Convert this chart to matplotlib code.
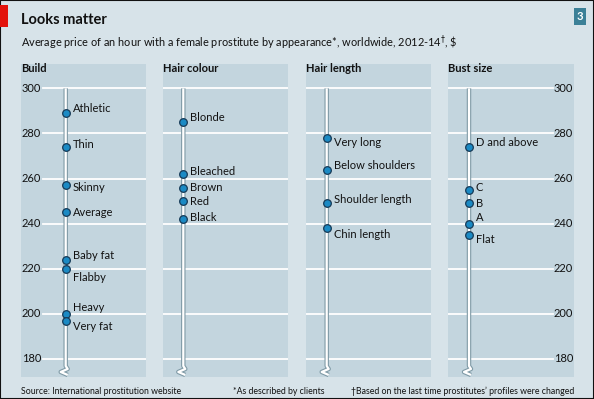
import matplotlib
matplotlib.use("Agg")
from matplotlib import pyplot as plt
from matplotlib.patches import Rectangle

plt.rcParams['font.family'] = ['Lato', 'DejaVu Sans']

# data
panel_titles = ["Build", "Hair colour", "Hair length", "Bust size"]
build_labels = ["Athletic", "Thin", "Skinny", "Average", "Baby fat", "Flabby", "Heavy", "Very fat"]
build_values = [289, 274, 257, 245, 224, 220, 200, 197]
colour_labels = ["Blonde", "Bleached", "Brown", "Red", "Black"]
colour_values = [285, 262, 256, 250, 242]
length_labels = ["Very long", "Below shoulders", "Shoulder length", "Chin length"]
length_values = [278, 264, 249, 238]
bust_labels = ["D and above", "C", "B", "A", "Flat"]
bust_values = [274, 255, 249, 240, 235]
yticks = [180, 200, 220, 240, 260, 280, 300]

# vertical nudges of the labels, in points
build_dy = [3, 1.5, -1.5, 0, 3, -6, 4.5, -4.5]
colour_dy = [3.5, 2, 0, 0, 1.5]
length_dy = [-3, 3, 2.5, -4.5]
bust_dy = [3, 1.5, 0, 4.5, -3]

BG = "#d7e3e9"
PANEL = "#c3d5de"
W, H = 594, 399

fig = plt.figure(figsize=(W / 100, H / 100), dpi=100)
fig.patch.set_facecolor(BG)


def px(x, y, w, h):
    return [x / W, 1 - (y + h) / H, w / W, h / H]


# border, red tag, number box
fig.add_artist(Rectangle((0, 0), 1, 1, transform=fig.transFigure, fill=False,
                         edgecolor="#111111", lw=1.5))
fig.add_artist(Rectangle((0, 1 - 27 / H), 8 / W, 22 / H, transform=fig.transFigure,
                         facecolor="#e3120b", edgecolor="none"))
fig.add_artist(Rectangle((574 / W, 1 - 25 / H), 12 / W, 17 / H, transform=fig.transFigure,
                         facecolor="#3b8097", edgecolor="none"))
fig.text(580 / W, 1 - 16.5 / H, "3", color="white", fontsize=8, fontweight="bold",
         ha="center", va="center")

fig.text(21 / W, 1 - 20 / H, "Looks matter", fontsize=10.5, fontweight="bold",
         ha="left", va="center", color="#111111")
fig.text(21 / W, 1 - 43 / H,
         r"Average price of an hour with a female prostitute by appearance*, worldwide, 2012-14$^{\dagger}$, \$",
         fontsize=7.9, ha="left", va="center", color="#111111")

fig.text(21 / W, 1 - 391 / H, "Source: International prostitution website",
         fontsize=6.3, ha="left", va="center", color="#111111")
fig.text(233 / W, 1 - 391 / H, "*As described by clients",
         fontsize=6.3, ha="left", va="center", color="#111111")
fig.text(574 / W, 1 - 391 / H,
         "\u2020Based on the last time prostitutes\u2019 profiles were changed",
         fontsize=6.3, ha="right", va="center", color="#111111")

panels = [
    (21, 125, build_labels, build_values, build_dy, 44.7),
    (163, 125, colour_labels, colour_values, colour_dy, 20.3),
    (306, 125, length_labels, length_values, length_dy, 20.7),
    (448, 126, bust_labels, bust_values, bust_dy, 21),
]

for i, (x0, w, labels, values, dys, stem) in enumerate(panels):
    ax = fig.add_axes(px(x0, 64, w, 313))
    ax.set_facecolor(PANEL)
    ax.set_xlim(0, w)
    ax.set_ylim(172, 310.8)
    for s in ax.spines.values():
        s.set_visible(False)
    ax.set_xticks([])
    ax.set_yticks([])

    ax.text(0, 1 - 5 / 313, panel_titles[i], transform=ax.transAxes, fontsize=8,
            fontweight="bold", ha="left", va="center", color="#111111")

    # gridlines and tick labels
    g0, g1 = 0, w
    if i == 0:
        g0 = 22
    if i == 3:
        g1 = 105
    for t in yticks:
        ax.plot([g0, g1], [t, t], color="white", lw=1.3, zorder=1)
        if i == 0:
            ax.text(1, t, str(t), fontsize=8, ha="left", va="center", color="#111111")
        if i == 3:
            ax.text(w - 1, t, str(t), fontsize=8, ha="right", va="center", color="#111111")

    # thermometer stem with break symbol at the bottom
    k = 1 / 2.25
    sx = [stem, stem, stem + 2, stem - 5, stem + 2]
    sy = [300, 176.9, 176.9 - 3 * k, 176.9 - 6 * k, 176.9 - 9 * k]
    ax.plot(sx, sy, color="#7f9aa6", lw=3.2, solid_capstyle="butt", zorder=2)
    ax.plot(sx, sy, color="white", lw=1.6, solid_capstyle="butt", zorder=3)

    ax.plot([stem] * len(values), values, "o", ms=5.5, mfc="#1b8ac4", mec="#163a57",
            mew=0.9, zorder=4, ls="none")
    for lab, v, dy in zip(labels, values, dys):
        ax.annotate(lab, (stem, v), xytext=(5, dy), textcoords="offset points",
                    fontsize=8, ha="left", va="center", color="#111111")

plt.savefig("out.png", dpi=100, facecolor=BG)
